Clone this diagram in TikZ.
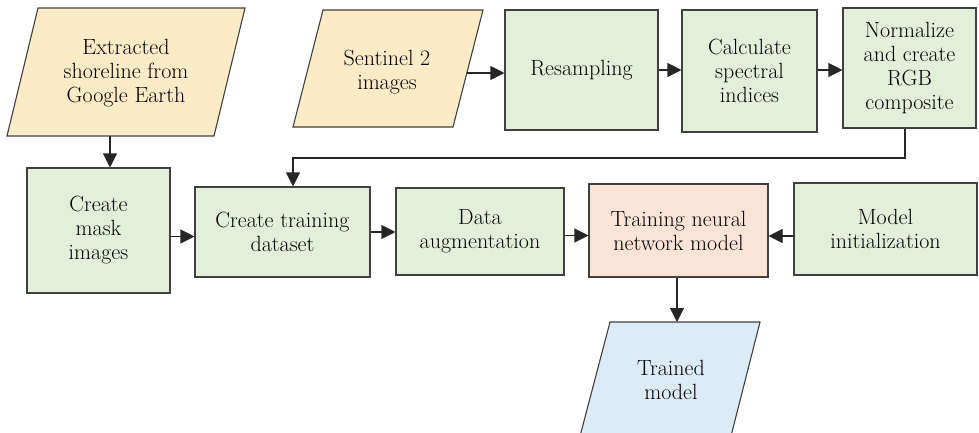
\documentclass[tikz,border=0pt]{standalone}
\usepackage{fontspec}
\setmainfont{Latin Modern Roman}
\usetikzlibrary{arrows.meta}
\definecolor{yel}{HTML}{FCEBC6}
\definecolor{grn}{HTML}{E2EFDA}
\definecolor{pnk}{HTML}{FBE4D6}
\definecolor{blu}{HTML}{DDEBF7}
\definecolor{edge}{HTML}{404040}
\tikzset{
  box/.style={draw=edge, line width=1.1pt, align=center, inner sep=2pt,
    font=\rmfamily\fontsize{22}{24}\selectfont, text=black},
  lbl/.style={align=center, inner sep=0pt, font=\rmfamily\fontsize{22}{24}\selectfont, text=black},
  para/.style={draw=edge, line width=1.1pt},
  link/.style={draw=black!85, line width=1.1pt, -{Triangle[length=14pt,width=14pt]}},
}
\begin{document}
\begin{tikzpicture}[x=1pt,y=-1pt]
\useasboundingbox (0,0) rectangle (979,432);
\clip (0,0) rectangle (979,432);
% parallelograms
\filldraw[para, fill=yel] (38,8) -- (245,8) -- (214,136) -- (7,136) -- cycle;
\node[lbl] (ext) at (126,73) {Extracted\\shoreline from\\Google Earth};
\coordinate (extb) at (110,136);
\filldraw[para, fill=yel] (323,10) -- (483,10) -- (453,127) -- (293,127) -- cycle;
\node[lbl] (sen) at (387,72) {Sentinel 2\\images};
\coordinate (senr) at (467,73);
\filldraw[para, fill=blu] (610,322) -- (760,322) -- (730,440) -- (579,440) -- cycle;
\node[lbl] (trd) at (671,380) {Trained\\model};
\coordinate (trdt) at (677,322);
% boxes
\node[box, fill=grn, minimum width=153pt, minimum height=120pt] (res) at (581.5,70) {Resampling};
\node[box, fill=grn, minimum width=135pt, minimum height=122pt] (cal) at (749.5,71) {Calculate\\spectral\\indices};
\node[box, fill=grn, minimum width=133pt, minimum height=120pt] (nor) at (909.5,68) {Normalize\\and create\\RGB\\composite};
\node[box, fill=grn, minimum width=143pt, minimum height=125pt] (msk) at (98.5,230.5) {Create\\mask\\images};
\node[box, fill=grn, minimum width=175pt, minimum height=90pt] (ctd) at (282.5,232) {Create training\\dataset};
\node[box, fill=grn, minimum width=168pt, minimum height=87pt] (aug) at (480,231.5) {Data\\augmentation};
\node[box, fill=pnk, minimum width=179pt, minimum height=93pt] (tnn) at (678.5,230.5) {Training neural\\network model};
\node[box, fill=grn, minimum width=183pt, minimum height=92pt] (ini) at (885.5,229) {Model\\initialization};
% connectors
\draw[link] (extb) -- (extb |- msk.north);
\draw[link] (senr) -- (senr -| res.west);
\draw[link] (res.east) -- (res.east -| cal.west);
\draw[link] ([yshift=1pt]cal.east) -- ([yshift=1pt]cal.east -| nor.west);
\coordinate (bend) at (905,158);
\draw[link] (nor.south -| bend) -- (bend) -- (bend -| 293,0) -- (293,0 |- ctd.north);
\draw[link] ([yshift=-6pt]msk.east) -- ([yshift=-6pt]msk.east -| ctd.west);
\draw[link] (ctd.east) -- (ctd.east -| aug.west);
\draw[link] ([yshift=-4pt]aug.east) -- ([yshift=-4pt]aug.east -| tnn.west);
\draw[link] ([yshift=-7pt]ini.west) -- ([yshift=-7pt]ini.west -| tnn.east);
\draw[link] (tnn.south -| trdt) -- (trdt);
\end{tikzpicture}
\end{document}
